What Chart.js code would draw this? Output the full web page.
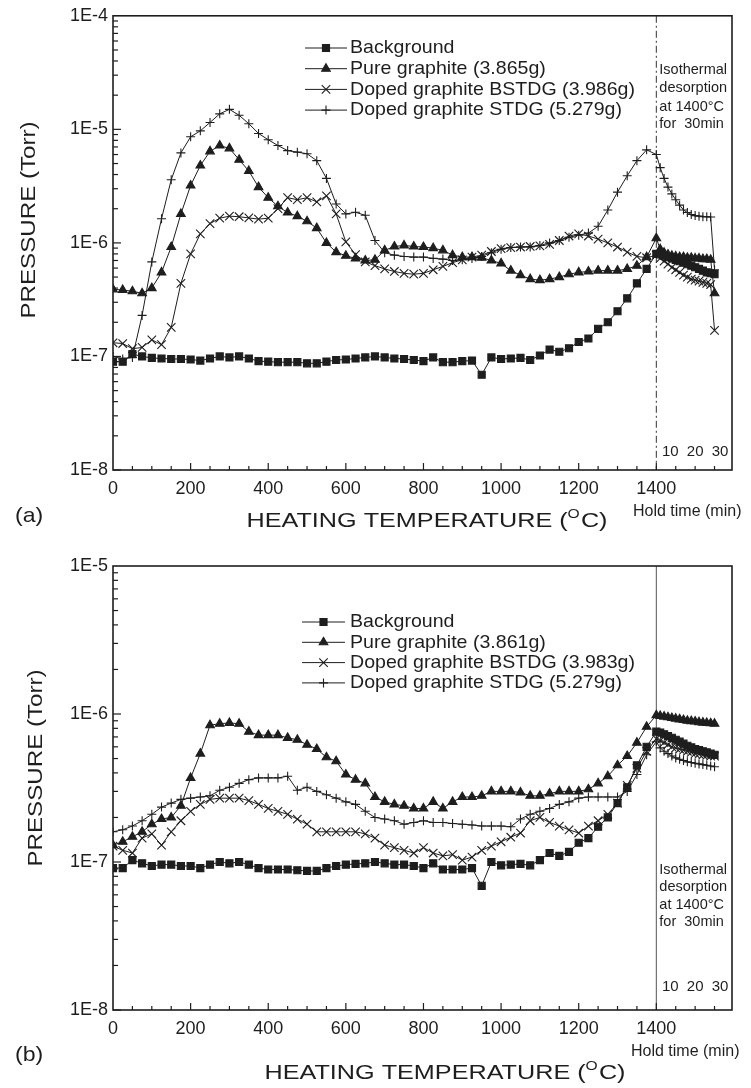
<!DOCTYPE html>
<html>
<head>
<meta charset="utf-8">
<script src="https://cdn.jsdelivr.net/npm/chart.js@4.4.1/dist/chart.umd.min.js"></script>
<style>
  html, body { margin: 0; padding: 0; background: #fff; }
  #wrap { position: relative; width: 751px; height: 1088px; }
  canvas { position: absolute; left: 0; }
  #chartA { top: 0; }
  #chartB { top: 540px; }
</style>
</head>
<body>
<div id="wrap">
  <canvas id="chartA" width="751" height="540"></canvas>
  <canvas id="chartB" width="751" height="548"></canvas>
</div>
<script>
const FONT = '"Liberation Sans", Arial, Helvetica, sans-serif';
const INK = '#1e1e1e';

// heating ramp, degC
const temps = [0, 25, 50, 75, 100, 125, 150, 175,
  200, 225, 250, 275, 300, 325, 350, 375,
  400, 425, 450, 475, 500, 525, 550, 575,
  600, 625, 650, 675, 700, 725, 750, 775,
  800, 825, 850, 875, 900, 925, 950, 975,
  1000, 1025, 1050, 1075, 1100, 1125, 1150, 1175,
  1200, 1225, 1250, 1275, 1300, 1325, 1350, 1375,
  1400];
// isothermal hold at 1400 degC, minutes
const holdMinutes = [2, 4, 6, 8, 10, 12, 14, 16, 18, 20, 22, 24, 26, 28, 30];
const holdTicks = [10, 20, 30];
const HOLD_START = 1400;
const DEG_PER_MIN = 5;   // hold minutes are drawn on the temperature axis
const X_MAX = 1595;

const xTicks = [0, 200, 400, 600, 800, 1000, 1200, 1400];
const yTicksA = [1e-8, 1e-7, 1e-6, 1e-5, 1e-4];
const yTicksB = [1e-8, 1e-7, 1e-6, 1e-5];

const labelsA = ['Background', 'Pure graphite (3.865g)', 'Doped graphite BSTDG (3.986g)', 'Doped graphite STDG (5.279g)'];
const labelsB = ['Background', 'Pure graphite (3.861g)', 'Doped graphite BSTDG (3.983g)', 'Doped graphite STDG (5.279g)'];
const noteLines = ['Isothermal', 'desorption', 'at 1400\u00B0C', 'for  30min'];

// ---- (a) ----
const bgA = [9.0e-8, 9.0e-8, 1.05e-7, 1.0e-7, 9.7e-8, 9.6e-8, 9.5e-8, 9.5e-8,
  9.4e-8, 9.2e-8, 9.6e-8, 1.0e-7, 9.8e-8, 1.0e-7, 9.6e-8, 9.1e-8,
  9.0e-8, 8.9e-8, 8.9e-8, 8.9e-8, 8.7e-8, 8.7e-8, 9.0e-8, 9.3e-8,
  9.4e-8, 9.6e-8, 9.8e-8, 1.0e-7, 9.8e-8, 9.6e-8, 9.5e-8, 9.3e-8,
  9.1e-8, 9.8e-8, 8.9e-8, 8.9e-8, 9.1e-8, 9.2e-8, 6.9e-8, 9.8e-8,
  9.5e-8, 9.6e-8, 9.7e-8, 9.3e-8, 1.02e-7, 1.15e-7, 1.1e-7, 1.18e-7,
  1.34e-7, 1.44e-7, 1.75e-7, 2.0e-7, 2.5e-7, 3.25e-7, 4.4e-7, 5.9e-7,
  8.0e-7];
const bgAHold = [7.9e-7, 7.7e-7, 7.5e-7, 7.3e-7, 7.1e-7, 6.9e-7, 6.7e-7, 6.5e-7, 6.3e-7, 6.1e-7, 5.9e-7, 5.7e-7, 5.5e-7, 5.4e-7, 5.3e-7];

const pureA = [3.9e-7, 3.85e-7, 3.75e-7, 3.6e-7, 4.0e-7, 5.5e-7, 9.2e-7, 1.8e-6,
  3.2e-6, 4.8e-6, 6.4e-6, 7.2e-6, 6.8e-6, 5.4e-6, 4.3e-6, 3.1e-6,
  2.5e-6, 2.1e-6, 1.85e-6, 1.72e-6, 1.55e-6, 1.35e-6, 1.0e-6, 8.3e-7,
  7.7e-7, 7.3e-7, 7.0e-7, 7.1e-7, 8.6e-7, 9.3e-7, 9.5e-7, 9.3e-7,
  9.2e-7, 9.0e-7, 8.6e-7, 7.8e-7, 7.5e-7, 7.5e-7, 7.4e-7, 7.0e-7,
  6.6e-7, 5.7e-7, 5.2e-7, 4.8e-7, 4.7e-7, 4.8e-7, 5.0e-7, 5.3e-7,
  5.5e-7, 5.6e-7, 5.7e-7, 5.7e-7, 5.7e-7, 5.9e-7, 6.3e-7, 7.5e-7,
  1.1e-6];
const pureAHold = [8.8e-7, 8.2e-7, 7.9e-7, 7.7e-7, 7.6e-7, 7.5e-7, 7.5e-7, 7.4e-7, 7.4e-7, 7.3e-7, 7.3e-7, 7.2e-7, 7.2e-7, 7.1e-7, 3.6e-7];

const bstdgA = [1.32e-7, 1.3e-7, 1.17e-7, 1.2e-7, 1.4e-7, 1.27e-7, 1.8e-7, 4.4e-7,
  8.0e-7, 1.2e-6, 1.48e-6, 1.65e-6, 1.72e-6, 1.7e-6, 1.66e-6, 1.62e-6,
  1.65e-6, 2.0e-6, 2.5e-6, 2.4e-6, 2.5e-6, 2.3e-6, 2.6e-6, 1.8e-6,
  1.02e-6, 7.9e-7, 6.8e-7, 6.3e-7, 5.9e-7, 5.6e-7, 5.4e-7, 5.3e-7,
  5.4e-7, 5.8e-7, 6.2e-7, 6.7e-7, 7.1e-7, 7.5e-7, 7.8e-7, 8.4e-7,
  8.9e-7, 9.1e-7, 9.2e-7, 9.3e-7, 9.4e-7, 9.7e-7, 1.05e-6, 1.15e-6,
  1.2e-6, 1.15e-6, 1.08e-6, 1.0e-6, 9.2e-7, 8.3e-7, 7.6e-7, 7.4e-7,
  7.8e-7];
const bstdgAHold = [7.3e-7, 6.9e-7, 6.5e-7, 6.1e-7, 5.8e-7, 5.5e-7, 5.2e-7, 5.0e-7, 4.8e-7, 4.7e-7, 4.6e-7, 4.5e-7, 4.4e-7, 4.3e-7, 1.7e-7];

const stdgA = [1.0e-7, 9.5e-8, 9.8e-8, 2.3e-7, 6.8e-7, 1.63e-6, 3.6e-6, 6.2e-6,
  8.6e-6, 9.7e-6, 1.15e-5, 1.37e-5, 1.5e-5, 1.33e-5, 1.12e-5, 9.2e-6,
  8.1e-6, 7.2e-6, 6.5e-6, 6.3e-6, 6.1e-6, 5.3e-6, 3.7e-6, 2.2e-6,
  1.8e-6, 1.86e-6, 1.75e-6, 1.05e-6, 8.2e-7, 7.8e-7, 7.6e-7, 7.5e-7,
  7.5e-7, 7.3e-7, 7.2e-7, 7.0e-7, 7.1e-7, 7.3e-7, 7.6e-7, 8.2e-7,
  8.8e-7, 9.1e-7, 9.2e-7, 9.2e-7, 9.5e-7, 1.0e-6, 1.05e-6, 1.12e-6,
  1.17e-6, 1.22e-6, 1.4e-6, 1.95e-6, 2.8e-6, 3.9e-6, 5.3e-6, 6.6e-6,
  6.0e-6];
const stdgAHold = [4.6e-6, 3.7e-6, 3.1e-6, 2.7e-6, 2.4e-6, 2.15e-6, 1.95e-6, 1.85e-6, 1.78e-6, 1.74e-6, 1.72e-6, 1.7e-6, 1.7e-6, 1.69e-6, 5.8e-7];

// ---- (b) ----
const bgB = [9.1e-8, 9.1e-8, 1.03e-7, 9.8e-8, 9.4e-8, 9.6e-8, 9.6e-8, 9.4e-8,
  9.4e-8, 9.1e-8, 9.6e-8, 1.0e-7, 9.8e-8, 1.0e-7, 9.6e-8, 9.1e-8,
  8.9e-8, 8.9e-8, 8.9e-8, 8.8e-8, 8.7e-8, 8.7e-8, 9.1e-8, 9.4e-8,
  9.6e-8, 9.7e-8, 9.8e-8, 1.0e-7, 9.8e-8, 9.6e-8, 9.6e-8, 9.4e-8,
  9.1e-8, 9.8e-8, 8.9e-8, 8.9e-8, 8.9e-8, 9.1e-8, 6.9e-8, 1.0e-7,
  9.5e-8, 9.6e-8, 9.7e-8, 9.5e-8, 1.03e-7, 1.15e-7, 1.1e-7, 1.17e-7,
  1.35e-7, 1.45e-7, 1.73e-7, 2.0e-7, 2.5e-7, 3.2e-7, 4.5e-7, 6.0e-7,
  7.6e-7];
const bgBHold = [7.5e-7, 7.3e-7, 7.1e-7, 6.9e-7, 6.7e-7, 6.5e-7, 6.3e-7, 6.1e-7, 5.95e-7, 5.8e-7, 5.7e-7, 5.6e-7, 5.5e-7, 5.4e-7, 5.3e-7];

const pureB = [1.3e-7, 1.37e-7, 1.48e-7, 1.6e-7, 1.8e-7, 1.95e-7, 2.0e-7, 2.4e-7,
  3.7e-7, 5.4e-7, 8.4e-7, 8.6e-7, 8.7e-7, 8.6e-7, 7.6e-7, 7.2e-7,
  7.2e-7, 7.2e-7, 6.9e-7, 6.7e-7, 6.2e-7, 5.8e-7, 5.1e-7, 4.8e-7,
  3.9e-7, 3.6e-7, 3.4e-7, 2.75e-7, 2.55e-7, 2.45e-7, 2.4e-7, 2.3e-7,
  2.3e-7, 2.55e-7, 2.3e-7, 2.55e-7, 2.75e-7, 2.75e-7, 2.8e-7, 3.0e-7,
  3.0e-7, 3.0e-7, 2.95e-7, 2.8e-7, 2.8e-7, 2.9e-7, 3.0e-7, 3.0e-7,
  3.0e-7, 3.1e-7, 3.4e-7, 3.8e-7, 4.5e-7, 5.2e-7, 6.4e-7, 8.2e-7,
  9.8e-7];
const pureBHold = [9.7e-7, 9.6e-7, 9.5e-7, 9.4e-7, 9.3e-7, 9.2e-7, 9.1e-7, 9.0e-7, 8.95e-7, 8.9e-7, 8.8e-7, 8.75e-7, 8.7e-7, 8.65e-7, 8.6e-7];

const bstdgB = [1.28e-7, 1.2e-7, 1.15e-7, 1.45e-7, 1.55e-7, 1.3e-7, 1.6e-7, 1.9e-7,
  2.2e-7, 2.45e-7, 2.65e-7, 2.7e-7, 2.7e-7, 2.7e-7, 2.6e-7, 2.45e-7,
  2.3e-7, 2.2e-7, 2.1e-7, 1.95e-7, 1.8e-7, 1.6e-7, 1.6e-7, 1.6e-7,
  1.6e-7, 1.6e-7, 1.55e-7, 1.45e-7, 1.3e-7, 1.25e-7, 1.2e-7, 1.15e-7,
  1.25e-7, 1.15e-7, 1.1e-7, 1.12e-7, 1.03e-7, 1.08e-7, 1.2e-7, 1.28e-7,
  1.37e-7, 1.47e-7, 1.57e-7, 1.9e-7, 2.0e-7, 1.85e-7, 1.75e-7, 1.65e-7,
  1.57e-7, 1.75e-7, 1.9e-7, 2.1e-7, 2.5e-7, 3.3e-7, 4.3e-7, 5.6e-7,
  6.8e-7];
const bstdgBHold = [6.6e-7, 6.4e-7, 6.2e-7, 6.0e-7, 5.9e-7, 5.8e-7, 5.7e-7, 5.6e-7, 5.5e-7, 5.4e-7, 5.35e-7, 5.3e-7, 5.25e-7, 5.2e-7, 5.2e-7];

const stdgB = [1.6e-7, 1.65e-7, 1.75e-7, 1.9e-7, 2.1e-7, 2.35e-7, 2.5e-7, 2.65e-7,
  2.7e-7, 2.75e-7, 2.8e-7, 3.05e-7, 3.2e-7, 3.4e-7, 3.6e-7, 3.7e-7,
  3.7e-7, 3.7e-7, 3.8e-7, 3.05e-7, 3.2e-7, 3.0e-7, 2.85e-7, 2.7e-7,
  2.55e-7, 2.45e-7, 2.2e-7, 2.0e-7, 1.95e-7, 1.9e-7, 1.8e-7, 1.85e-7,
  1.9e-7, 1.85e-7, 1.85e-7, 1.82e-7, 1.8e-7, 1.78e-7, 1.75e-7, 1.75e-7,
  1.75e-7, 1.73e-7, 1.95e-7, 2.1e-7, 2.2e-7, 2.3e-7, 2.45e-7, 2.55e-7,
  2.7e-7, 2.75e-7, 2.75e-7, 2.75e-7, 2.75e-7, 3.0e-7, 3.9e-7, 5.3e-7,
  6.5e-7];
const stdgBHold = [5.9e-7, 5.6e-7, 5.4e-7, 5.2e-7, 5.05e-7, 4.95e-7, 4.85e-7, 4.75e-7, 4.7e-7, 4.65e-7, 4.6e-7, 4.55e-7, 4.5e-7, 4.45e-7, 4.4e-7];

const markerStyles = ['rect', 'triangle', 'crossRot', 'cross'];
const markerRadius = [5, 5, 6, 4.5];

function toPoints(heat, hold) {
  const pts = temps.map((t, i) => ({ x: t, y: heat[i] }));
  holdMinutes.forEach((m, i) => pts.push({ x: HOLD_START + m * DEG_PER_MIN, y: hold[i] }));
  return pts;
}

function drawMarker(ctx, style, r, x, y) {
  if (Chart.helpers && Chart.helpers.drawPoint) {
    Chart.helpers.drawPoint(ctx, { pointStyle: style, radius: r, borderWidth: 1, rotation: 0 }, x, y);
    return;
  }
  ctx.beginPath();
  if (style === 'rect') { const s = r * Math.SQRT1_2; ctx.rect(x - s, y - s, 2 * s, 2 * s); ctx.fill(); }
  else if (style === 'triangle') {
    ctx.moveTo(x, y - r); ctx.lineTo(x + 0.866 * r, y + 0.5 * r); ctx.lineTo(x - 0.866 * r, y + 0.5 * r);
    ctx.closePath(); ctx.fill();
  } else if (style === 'cross') {
    ctx.moveTo(x, y - r); ctx.lineTo(x, y + r); ctx.moveTo(x - r, y); ctx.lineTo(x + r, y); ctx.stroke();
  } else {
    const d = r * Math.SQRT1_2;
    ctx.moveTo(x - d, y - d); ctx.lineTo(x + d, y + d); ctx.moveTo(x + d, y - d); ctx.lineTo(x - d, y + d); ctx.stroke();
  }
}

function text(ctx, str, x, y, size, opt) {
  opt = opt || {};
  ctx.save();
  ctx.translate(x, y);
  if (opt.rot) ctx.rotate(opt.rot);
  ctx.scale(opt.sx || 1, 1);
  ctx.font = size + 'px ' + FONT;
  ctx.fillStyle = INK;
  ctx.textAlign = opt.align || 'left';
  ctx.textBaseline = 'middle';
  ctx.fillText(str, 0, 0);
  ctx.restore();
}

function drawXTitle(ctx, cx, cy) {
  const size = 21, sup = 13;
  ctx.save();
  ctx.translate(cx, cy);
  ctx.scale(1.2, 1);
  ctx.fillStyle = INK;
  ctx.textBaseline = 'middle';
  ctx.textAlign = 'left';
  const a = 'HEATING TEMPERATURE (', b = 'O', c = 'C)';
  ctx.font = size + 'px ' + FONT;
  const wa = ctx.measureText(a).width, wc = ctx.measureText(c).width;
  ctx.font = sup + 'px ' + FONT;
  const wb = ctx.measureText(b).width + 1;
  let x = -(wa + wb + wc) / 2;
  ctx.font = size + 'px ' + FONT;
  ctx.fillText(a, x, 0); x += wa;
  ctx.font = sup + 'px ' + FONT;
  ctx.fillText(b, x, -7); x += wb;
  ctx.font = size + 'px ' + FONT;
  ctx.fillText(c, x, 0);
  ctx.restore();
}

function line(ctx, x1, y1, x2, y2) {
  ctx.beginPath(); ctx.moveTo(x1, y1); ctx.lineTo(x2, y2); ctx.stroke();
}

function figurePlugin(cfg) {
  return {
    id: 'figure',
    beforeDatasetsDraw(chart) {
      const ctx = chart.ctx, { top, bottom } = chart.chartArea;
      const px = chart.scales.x.getPixelForValue(HOLD_START);
      ctx.save();
      ctx.strokeStyle = cfg.dash ? '#333' : '#555';
      ctx.lineWidth = 1;
      if (cfg.dash) ctx.setLineDash(cfg.dash);
      line(ctx, px, top, px, bottom);
      ctx.restore();
    },
    afterDatasetsDraw(chart) {
      const ctx = chart.ctx, { left, right, top, bottom } = chart.chartArea;
      const xs = chart.scales.x, ys = chart.scales.y;
      ctx.save();
      ctx.strokeStyle = INK;
      ctx.fillStyle = INK;

      // frame
      ctx.lineWidth = 1.6;
      ctx.strokeRect(left, top, right - left, bottom - top);

      // inward ticks
      ctx.lineWidth = 1.2;
      for (let v = 50; v <= HOLD_START + 30 * DEG_PER_MIN; v += 50) {
        const p = xs.getPixelForValue(v);
        const major = xTicks.includes(v);
        line(ctx, p, bottom, p, bottom - (major ? 7 : 4));
      }
      const e0 = Math.round(Math.log10(ys.min)), e1 = Math.round(Math.log10(ys.max));
      for (let e = e0; e < e1; e++) {
        for (let k = 1; k <= 9; k++) {
          const p = ys.getPixelForValue(k * Math.pow(10, e));
          line(ctx, left, p, left + (k === 1 ? 8 : 5), p);
        }
      }

      // hold-time minute labels inside the plot, spread a little like the original
      holdTicks.forEach(m => {
        const px = xs.getPixelForValue(HOLD_START + m * DEG_PER_MIN) + (m - 20) * 0.55;
        text(ctx, String(m), px, cfg.holdLabelY, 15, { align: 'center' });
      });

      // isothermal note
      const nx = xs.getPixelForValue(HOLD_START) + 3;
      noteLines.forEach((s, i) => text(ctx, s, nx, cfg.noteY[i], 14.5));

      // legend
      const lg = cfg.legend;
      chart.data.datasets.forEach((ds, i) => {
        const y = lg.y0 + i * lg.dy;
        ctx.lineWidth = 1;
        line(ctx, lg.x1, y, lg.x2, y);
        ctx.lineWidth = 1.1;
        drawMarker(ctx, markerStyles[i], markerRadius[i], (lg.x1 + lg.x2) / 2, y);
        text(ctx, ds.label, lg.tx, y, 19, { sx: 1.03 });
      });

      // titles
      drawXTitle(ctx, cfg.xTitle[0], cfg.xTitle[1]);
      text(ctx, 'PRESSURE (Torr)', cfg.yTitle[0], cfg.yTitle[1], 21, { rot: -Math.PI / 2, sx: 1.15, align: 'center' });
      text(ctx, 'Hold time (min)', cfg.holdTitle[0], cfg.holdTitle[1], 16);
      text(ctx, cfg.tag, cfg.tagPos[0], cfg.tagPos[1], 21, { sx: 1.1 });
      ctx.restore();
    }
  };
}

function makeChart(id, o) {
  const series = o.series;
  return new Chart(document.getElementById(id), {
    type: 'line',
    data: {
      datasets: series.map((s, i) => ({
        label: o.labels[i],
        data: toPoints(s[0], s[1]),
        borderColor: INK,
        backgroundColor: INK,
        borderWidth: 1,
        tension: 0,
        fill: false,
        pointStyle: markerStyles[i],
        pointRadius: markerRadius[i],
        pointBorderWidth: 1.1,
        pointBorderColor: INK,
        pointBackgroundColor: INK
      }))
    },
    options: {
      responsive: false,
      animation: false,
      devicePixelRatio: 1,
      layout: { padding: { left: 0, right: 19, top: o.padTop, bottom: o.padBottom } },
      plugins: { legend: { display: false }, tooltip: { enabled: false } },
      scales: {
        x: {
          type: 'linear', min: 0, max: X_MAX,
          afterBuildTicks: s => { s.ticks = xTicks.map(v => ({ value: v })); },
          afterFit: s => { s.height = 30; },
          grid: { display: false, drawTicks: false },
          border: { display: false },
          ticks: { padding: 8, color: INK, autoSkip: false, maxRotation: 0, font: { family: FONT, size: 18 }, callback: v => String(v) }
        },
        y: {
          type: 'logarithmic', min: o.yTicks[0], max: o.yTicks[o.yTicks.length - 1],
          afterBuildTicks: s => { s.ticks = o.yTicks.map(v => ({ value: v })); },
          afterFit: s => { s.width = 113; },
          grid: { display: false, drawTicks: false },
          border: { display: false },
          ticks: { padding: 5, color: INK, autoSkip: false, font: { family: FONT, size: 18 }, callback: v => '1E' + Math.round(Math.log10(v)) }
        }
      }
    },
    plugins: [figurePlugin(o.fig)]
  });
}

makeChart('chartA', {
  labels: labelsA,
  series: [[bgA, bgAHold], [pureA, pureAHold], [bstdgA, bstdgAHold], [stdgA, stdgAHold]],
  yTicks: yTicksA,
  padTop: 15, padBottom: 40,
  fig: {
    dash: [7, 3, 2, 3],
    legend: { x1: 305, x2: 347, tx: 350, y0: 48, dy: 20.7 },
    noteY: [70, 88, 107, 124],
    holdLabelY: 452,
    xTitle: [427, 521], yTitle: [29, 220], holdTitle: [633, 512],
    tag: '(a)', tagPos: [15, 516]
  }
});

makeChart('chartB', {
  labels: labelsB,
  series: [[bgB, bgBHold], [pureB, pureBHold], [bstdgB, bstdgBHold], [stdgB, stdgBHold]],
  yTicks: yTicksB,
  padTop: 26, padBottom: 48,
  fig: {
    dash: null,
    legend: { x1: 302, x2: 345, tx: 350, y0: 82, dy: 20.3 },
    noteY: [330, 347, 365, 382],
    holdLabelY: 447,
    xTitle: [445, 533], yTitle: [36, 228], holdTitle: [631, 512],
    tag: '(b)', tagPos: [15, 515]
  }
});
</script>
</body>
</html>
